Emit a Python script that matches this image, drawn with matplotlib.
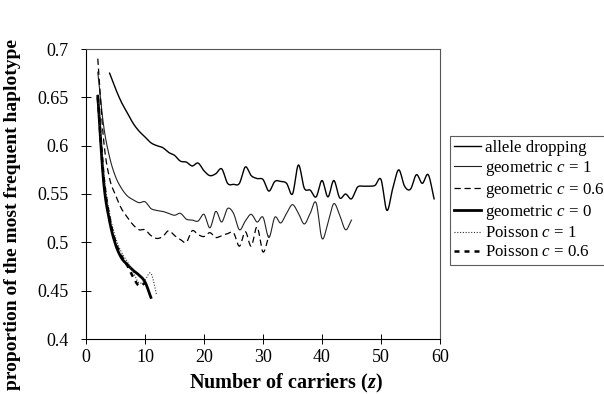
import matplotlib
matplotlib.use('Agg')
import matplotlib.pyplot as plt
import numpy as np

plt.rcParams['font.family'] = ['Liberation Serif', 'DejaVu Serif']
plt.rcParams['mathtext.fontset'] = 'custom'
plt.rcParams['mathtext.rm'] = 'Liberation Serif'
plt.rcParams['mathtext.it'] = 'Liberation Serif:italic'
plt.rcParams['mathtext.bf'] = 'Liberation Serif:bold:italic'

# values, one per number of carriers z
z_allele = np.arange(4, 60)
allele = [0.675, 0.659, 0.645, 0.634, 0.623, 0.615, 0.609, 0.603, 0.600, 0.598,
          0.593, 0.590, 0.584, 0.583, 0.579, 0.582, 0.574, 0.569, 0.571, 0.576,
          0.561, 0.560, 0.561, 0.578, 0.569, 0.566, 0.565, 0.553, 0.563, 0.563,
          0.561, 0.550, 0.580, 0.556, 0.554, 0.547, 0.564, 0.547, 0.564, 0.546,
          0.550, 0.545, 0.557, 0.558, 0.558, 0.559, 0.565, 0.533, 0.556, 0.575,
          0.558, 0.555, 0.570, 0.561, 0.570, 0.545]

z_geo1 = np.arange(2, 46)
geo1 = [0.676, 0.620, 0.588, 0.568, 0.556, 0.548, 0.544, 0.541, 0.542, 0.535,
        0.533, 0.532, 0.530, 0.528, 0.530, 0.524, 0.523, 0.522, 0.529, 0.515,
        0.532, 0.521, 0.535, 0.530, 0.513, 0.522, 0.529, 0.521, 0.526, 0.505,
        0.526, 0.520, 0.530, 0.539, 0.530, 0.519, 0.530, 0.541, 0.504, 0.520,
        0.540, 0.528, 0.513, 0.523]

z_geo06 = np.arange(2, 32)
geo06 = [0.690, 0.605, 0.566, 0.549, 0.535, 0.526, 0.518, 0.513, 0.513, 0.507,
         0.504, 0.506, 0.512, 0.507, 0.503, 0.500, 0.512, 0.508, 0.506, 0.510,
         0.505, 0.507, 0.509, 0.510, 0.496, 0.511, 0.496, 0.516, 0.490, 0.507]

z_geo0 = np.arange(2, 12)
geo0 = [0.651, 0.562, 0.522, 0.498, 0.484, 0.477, 0.471, 0.466, 0.459, 0.443]

z_poi1 = np.arange(2, 13)
poi1 = [0.653, 0.572, 0.530, 0.505, 0.490, 0.480, 0.469, 0.458, 0.461, 0.468, 0.445]

z_poi06 = np.arange(2, 11)
poi06 = [0.650, 0.567, 0.525, 0.500, 0.486, 0.476, 0.464, 0.455, 0.458]

labels = ['allele dropping', 'geometric $c$ = 1', 'geometric $c$ = 0.6',
          'geometric $c$ = 0', 'Poisson $c$ = 1', 'Poisson $c$ = 0.6']


def smooth(x, y, n=12):
    # catmull-rom through the points, like the spreadsheet's smoothed line
    x = np.asarray(x, float)
    y = np.asarray(y, float)
    px = np.concatenate([[2 * x[0] - x[1]], x, [2 * x[-1] - x[-2]]])
    py = np.concatenate([[2 * y[0] - y[1]], y, [2 * y[-1] - y[-2]]])
    t = np.linspace(0, 1, n, endpoint=False)[:, None]
    out = []
    for p in (px, py):
        p0, p1, p2, p3 = p[:-3], p[1:-2], p[2:-1], p[3:]
        s = 0.5 * ((2 * p1) + (-p0 + p2) * t + (2 * p0 - 5 * p1 + 4 * p2 - p3) * t ** 2
                   + (-p0 + 3 * p1 - 3 * p2 + p3) * t ** 3)
        out.append(np.concatenate([s.T.ravel(), [p[-2]]]))
    return out


fig = plt.figure(figsize=[6.04, 3.94], dpi=100)
ax = fig.add_axes([86 / 604, 1 - 339 / 394, 354 / 604, 290 / 394])

series = [
    (z_allele, allele, dict(color='black', lw=1.0, ls='-')),
    (z_geo1, geo1, dict(color='#222222', lw=0.8, ls='-')),
    (z_geo06, geo06, dict(color='black', lw=0.9, ls=(0, (5, 3)))),
    (z_geo0, geo0, dict(color='black', lw=2.0, ls='-')),
    (z_poi1, poi1, dict(color='#333333', lw=0.8, ls=(0, (1, 1.5)))),
    (z_poi06, poi06, dict(color='black', lw=1.8, ls=(0, (2, 2)))),
]
for (zz, vals, st), lab in zip(series, labels):
    sx, sy = smooth(zz, vals)
    ax.plot(sx, sy, label=lab, **st)

ax.set_xlim(0, 60)
ax.set_ylim(0.4, 0.7)
ax.set_xticks(np.arange(0, 61, 10))
ax.set_yticks(np.arange(0.4, 0.701, 0.05))
ax.set_yticklabels(['0.4', '0.45', '0.5', '0.55', '0.6', '0.65', '0.7'])
ax.tick_params(axis='both', direction='inout', length=7, width=0.7, labelsize=13)
ax.tick_params(axis='x', pad=4)
ax.tick_params(axis='y', pad=9)
for side in ['left', 'bottom']:
    ax.spines[side].set_linewidth(0.8)
for side in ['top', 'right']:
    ax.spines[side].set_linewidth(0.8)
    ax.spines[side].set_color('#555555')

ax.set_xlabel(r'Number of carriers ($\mathbf{z}$)', fontsize=14.5, fontweight='bold')
ax.xaxis.set_label_coords(0.565, -0.112)
ax.set_ylabel('proportion of the most frequent haplotype', fontsize=14,
              fontweight='bold')
ax.yaxis.set_label_coords(-0.185, 0.43)

leg = fig.legend(loc='upper left', bbox_to_anchor=(450 / 604, 1 - 136 / 394),
                 fontsize=12.2, frameon=True, fancybox=False, edgecolor='#333333',
                 handlelength=1.6, handletextpad=0.2, labelspacing=0.18,
                 borderpad=0.25, borderaxespad=0)
leg.get_frame().set_linewidth(0.8)

plt.savefig('out.png')
